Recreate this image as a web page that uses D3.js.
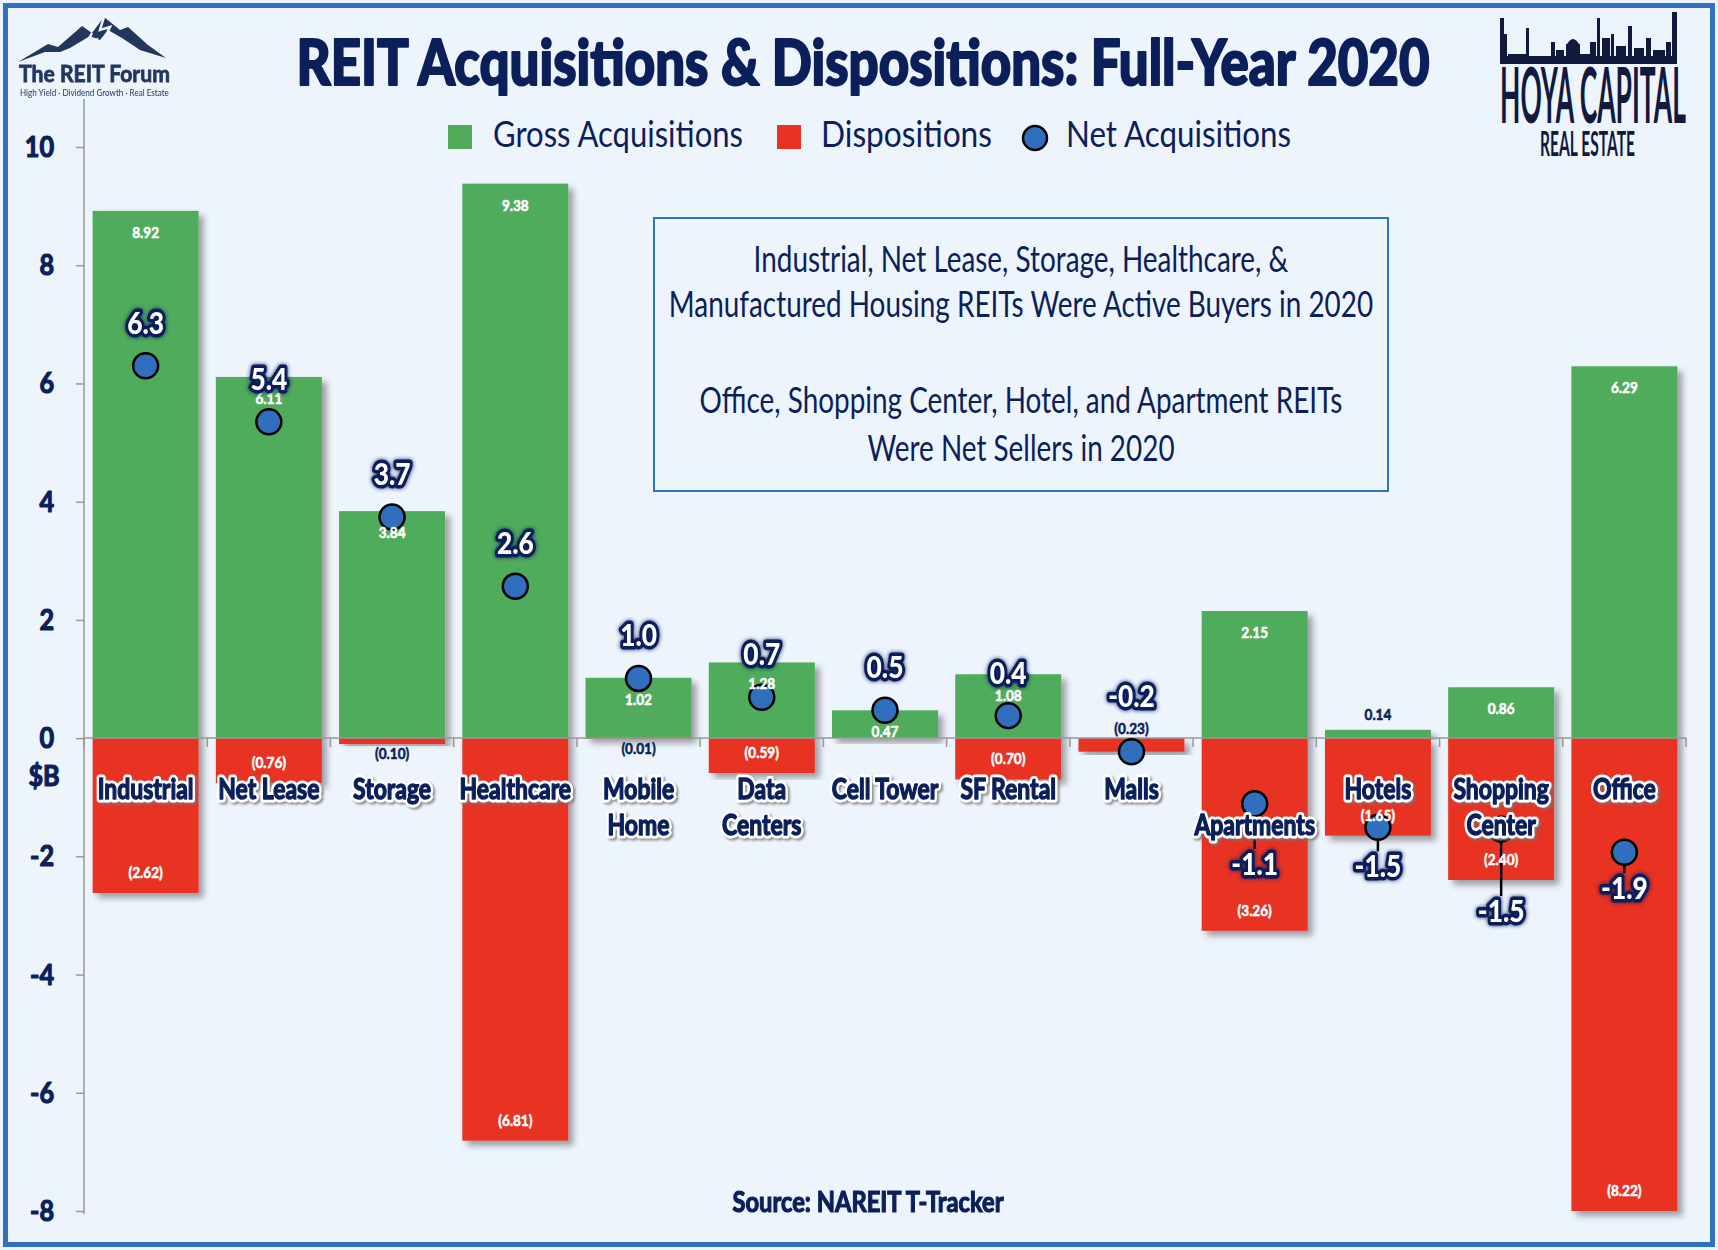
<!DOCTYPE html>
<html>
<head>
<meta charset="utf-8">
<script src="https://cdn.jsdelivr.net/npm/d3@7"></script>
<style>
  html, body { margin: 0; padding: 0; background: #eef4fc; }
  svg { display: block; }
</style>
</head>
<body>
<script>
// ---- data ($B) ----
var categories = ["Industrial", "Net Lease", "Storage", "Healthcare", "Mobile Home", "Data Centers",
                  "Cell Tower", "SF Rental", "Malls", "Apartments", "Hotels", "Shopping Center", "Office"];
var gross = [8.92, 6.11, 3.84, 9.38, 1.02, 1.28, 0.47, 1.08, 0, 2.15, 0.14, 0.86, 6.29];
var dispositions = [2.62, 0.76, 0.10, 6.81, 0.01, 0.59, 0, 0.70, 0.23, 3.26, 1.65, 2.40, 8.22];
var net = [6.30, 5.35, 3.74, 2.57, 1.01, 0.69, 0.47, 0.38, -0.23, -1.11, -1.51, -1.54, -1.93];
var netText = ["6.3", "5.4", "3.7", "2.6", "1.0", "0.7", "0.5", "0.4", "-0.2", "-1.1", "-1.5", "-1.5", "-1.9"];
var yTicks = [-8, -6, -4, -2, 0, 2, 4, 6, 8, 10];
var legendItems = ["Gross Acquisitions", "Dispositions", "Net Acquisitions"];
var noteLines = ["Industrial, Net Lease, Storage, Healthcare, &",
                 "Manufactured Housing REITs Were Active Buyers in 2020",
                 "Office, Shopping Center, Hotel, and Apartment REITs",
                 "Were Net Sellers in 2020"];

// layout: category label lines, and where the net label sits relative to its dot
var labelLines = [["Industrial"], ["Net Lease"], ["Storage"], ["Healthcare"], ["Mobile", "Home"],
                  ["Data", "Centers"], ["Cell Tower"], ["SF Rental"], ["Malls"], ["", "Apartments"],
                  ["Hotels"], ["Shopping", "Center"], ["Office"]];
var netLabelDy = [-32, -32, -32, -32, -32, -32, -32, -32, -45, 71, 50, 93, 47];

var width = 1718, height = 1250;
var navy = "#0b1f5b", green = "#50ac5b", red = "#e83323", dotBlue = "#2f6fbe";
var font = "Lato, 'Open Sans', sans-serif";

var svg = d3.select("body").append("svg").attr("width", width).attr("height", height);

var defs = svg.append("defs");
var f1 = defs.append("filter").attr("id", "barShadow").attr("x", "-10%").attr("y", "-10%").attr("width", "130%").attr("height", "130%");
f1.append("feDropShadow").attr("dx", 5).attr("dy", 5).attr("stdDeviation", 3)
  .attr("flood-color", "#000").attr("flood-opacity", 0.35);
var f2 = defs.append("filter").attr("id", "catShadow");
f2.append("feDropShadow").attr("dx", 2).attr("dy", 2).attr("stdDeviation", 1.2)
  .attr("flood-color", "#777").attr("flood-opacity", 0.8);
var f3 = defs.append("filter").attr("id", "netGlow").attr("x", "-30%").attr("y", "-30%").attr("width", "160%").attr("height", "160%");
f3.append("feDropShadow").attr("dx", 0).attr("dy", 0).attr("stdDeviation", 2)
  .attr("flood-color", navy).attr("flood-opacity", 0.9);

// background + frame
svg.append("rect").attr("width", width).attr("height", height).attr("fill", "#eef4fc");
svg.append("rect").attr("x", 5.5).attr("y", 5.5).attr("width", 1707).attr("height", 1239)
  .attr("fill", "none").attr("stroke", "#2f72c0").attr("stroke-width", 5);

// text helper; "heavy" thickens the glyphs with a stroke of the fill colour
function label(parent, x, y, s, o) {
  var fill = o.fill || navy;
  var t = parent.append("text")
    .attr("transform", "translate(" + x + "," + y + ") scale(" + (o.sx || 1) + ",1)")
    .attr("text-anchor", o.anchor || "middle")
    .style("font-family", font)
    .style("font-weight", o.weight || 700)
    .style("font-size", o.size + "px")
    .attr("fill", fill)
    .text(s);
  if (o.heavy) t.attr("stroke", fill).attr("stroke-width", o.heavy).attr("stroke-linejoin", "round");
  return t;
}

// squeeze a left-anchored text to a given width
function fitText(parent, x, y, s, w, size, weight, fill) {
  var t = parent.append("text").attr("text-anchor", "start")
    .style("font-family", font).style("font-weight", weight).style("font-size", size + "px")
    .attr("fill", fill).text(s);
  var len = t.node().getComputedTextLength();
  t.attr("transform", "translate(" + x + "," + y + ") scale(" + (w / len) + ",1)");
  return t;
}

// scales
var x = d3.scaleBand().domain(categories).range([84, 1686]).paddingInner(0.14).paddingOuter(0.07);
var y = d3.scaleLinear().domain([-8, 10]).range([1211, 147]).clamp(true);
var cx = function(i) { return x(categories[i]) + x.bandwidth() / 2; };

// title
svg.append("text").attr("x", 863).attr("y", 85).attr("text-anchor", "middle")
  .attr("textLength", 1133).attr("lengthAdjust", "spacingAndGlyphs")
  .style("font-family", font).style("font-weight", 900).style("font-size", "62px")
  .attr("fill", navy).attr("stroke", navy).attr("stroke-width", 2).attr("stroke-linejoin", "round")
  .text("REIT Acquisitions & Dispositions: Full-Year 2020");

// legend
var lg = svg.append("g");
lg.append("rect").attr("x", 448).attr("y", 125).attr("width", 24).attr("height", 24).attr("fill", green);
lg.append("rect").attr("x", 777).attr("y", 125).attr("width", 24).attr("height", 24).attr("fill", red);
lg.append("circle").attr("cx", 1035).attr("cy", 138).attr("r", 12).attr("fill", dotBlue)
  .attr("stroke", "#000").attr("stroke-width", 2.5);
var legendX = [493, 821, 1066], legendW = [250, 171, 225];
legendItems.forEach(function(d, i) {
  lg.append("text").attr("x", legendX[i]).attr("y", 147)
    .attr("textLength", legendW[i]).attr("lengthAdjust", "spacingAndGlyphs")
    .style("font-family", font).style("font-weight", 400).style("font-size", "37px")
    .attr("fill", navy).text(d);
});

// note box
svg.append("rect").attr("x", 654).attr("y", 218).attr("width", 734).attr("height", 273)
  .attr("fill", "none").attr("stroke", "#2f72c0").attr("stroke-width", 2);
var noteY = [272, 317, 413, 461];
noteLines.forEach(function(d, i) {
  label(svg, 1021, noteY[i], d, { size: 36, weight: 400, sx: 0.775 });
});

// y axis
var yAxis = d3.axisLeft(y).tickValues(yTicks).tickSize(8).tickFormat("");
var ya = svg.append("g").attr("transform", "translate(84,0)").call(yAxis);
ya.select(".domain").remove();
ya.selectAll(".tick line").attr("stroke", "#999").attr("stroke-width", 1.5);
svg.append("line").attr("x1", 84).attr("x2", 84).attr("y1", 99).attr("y2", y(-8) + 3)
  .attr("stroke", "#999").attr("stroke-width", 1.5);
yTicks.forEach(function(v) {
  label(svg, 54, y(v) + 10, String(v), { size: 28, anchor: "end", sx: 0.9, heavy: 1.2 });
});
label(svg, 44, 786, "$B", { size: 28, sx: 0.9, heavy: 1.2 });

// bars
var bars = svg.append("g");
bars.selectAll(".gross").data(gross).enter().append("rect")
  .attr("class", "gross")
  .attr("x", function(d, i) { return x(categories[i]); })
  .attr("width", x.bandwidth())
  .attr("y", function(d) { return y(d); })
  .attr("height", function(d) { return y(0) - y(d); })
  .attr("fill", green)
  .attr("filter", function(d) { return d > 0 ? "url(#barShadow)" : null; });
bars.selectAll(".disp").data(dispositions).enter().append("rect")
  .attr("class", "disp")
  .attr("x", function(d, i) { return x(categories[i]); })
  .attr("width", x.bandwidth())
  .attr("y", y(0))
  .attr("height", function(d) { return y(-d) - y(0); })
  .attr("fill", red)
  .attr("filter", function(d) { return d > 0 ? "url(#barShadow)" : null; });

// x axis line with ticks at band edges
var xa = svg.append("g");
xa.append("line").attr("x1", 84).attr("x2", 1686).attr("y1", y(0)).attr("y2", y(0))
  .attr("stroke", "#999").attr("stroke-width", 1.5);
xa.selectAll(".xt").data(categories.concat(["end"])).enter().append("line")
  .attr("x1", function(d, i) { return i < categories.length ? x(d) - x.step() * x.paddingInner() / 2 : 1686; })
  .attr("x2", function(d, i) { return i < categories.length ? x(d) - x.step() * x.paddingInner() / 2 : 1686; })
  .attr("y1", y(0)).attr("y2", y(0) + 9)
  .attr("stroke", "#999").attr("stroke-width", 1.5);

// net acquisitions: leader lines and dots (labels go on top later)
var ng = svg.append("g");
net.forEach(function(d, i) {
  if (netLabelDy[i] > 0) {
    ng.append("line").attr("x1", cx(i)).attr("x2", cx(i))
      .attr("y1", y(d)).attr("y2", y(d) + netLabelDy[i] - 26)
      .attr("stroke", "#000").attr("stroke-width", 2.5);
  }
});
ng.selectAll("circle").data(net).enter().append("circle")
  .attr("cx", function(d, i) { return cx(i); })
  .attr("cy", function(d) { return y(d); })
  .attr("r", 12.5)
  .attr("fill", dotBlue).attr("stroke", "#000").attr("stroke-width", 2.5);

// value labels
var vl = svg.append("g");
gross.forEach(function(d, i) {
  if (d <= 0) return;
  if (d < 0.3) label(vl, cx(i), y(d) - 10, d.toFixed(2), { size: 16, sx: 0.85, heavy: 0.6 });
  else label(vl, cx(i), y(d) + 27, d.toFixed(2), { size: 16, sx: 0.85, fill: "#fff", heavy: 0.6 });
});
dispositions.forEach(function(d, i) {
  if (d <= 0) return;
  var s = "(" + d.toFixed(2) + ")";
  if (gross[i] === 0) label(vl, cx(i), y(0) - 4, s, { size: 16, sx: 0.85, heavy: 0.6 });
  else if (d < 0.3) label(vl, cx(i), y(-d) + 15, s, { size: 16, sx: 0.85, heavy: 0.6 });
  else label(vl, cx(i), y(-d) - 15, s, { size: 16, sx: 0.85, fill: "#fff", heavy: 0.6 });
});

// category labels: white halo, then heavy navy glyphs
var cl = svg.append("g").attr("filter", "url(#catShadow)");
labelLines.forEach(function(lines, i) {
  lines.forEach(function(s, k) {
    if (!s) return;
    label(cl, cx(i), 799 + k * 36, s, { size: 28, sx: 0.82, fill: "#fff" })
      .attr("stroke", "#fff").attr("stroke-width", 7).attr("stroke-linejoin", "round");
  });
});
var cl2 = svg.append("g");
labelLines.forEach(function(lines, i) {
  lines.forEach(function(s, k) {
    if (!s) return;
    label(cl2, cx(i), 799 + k * 36, s, { size: 28, sx: 0.82, heavy: 1.4 });
  });
});

// net labels
var nl = svg.append("g").attr("filter", "url(#netGlow)");
net.forEach(function(d, i) {
  label(nl, cx(i), y(d) + netLabelDy[i], netText[i], { size: 31, weight: 900, sx: 0.85, fill: "#fff" })
    .attr("stroke", navy).attr("stroke-width", 7).attr("stroke-linejoin", "round")
    .style("paint-order", "stroke");
});

// source
svg.append("text").attr("x", 868).attr("y", 1212).attr("text-anchor", "middle")
  .attr("textLength", 271).attr("lengthAdjust", "spacingAndGlyphs")
  .style("font-family", font).style("font-weight", 700).style("font-size", "28px")
  .attr("fill", navy).attr("stroke", navy).attr("stroke-width", 1.2)
  .text("Source: NAREIT T-Tracker");

// ---- logos ----
var lf = svg.append("g");
lf.append("path")
  .attr("d", "M18,62 L48,44 L58,47 L82,26 L92,33 L104,17 L120,30 L128,27 L148,45 L166,58 L140,50 L122,38 L108,30 L100,40 L90,36 L70,48 L60,52 L45,52 Z")
  .attr("fill", "#22375e");
lf.append("path").attr("d", "M92,33 L86,44 L96,40 L90,52").attr("fill", "none").attr("stroke", "#eef4fc").attr("stroke-width", 2.5);
lf.append("path").attr("d", "M104,17 L100,30 L110,27 L104,40").attr("fill", "none").attr("stroke", "#eef4fc").attr("stroke-width", 2.5);
fitText(lf, 19, 82, "The REIT Forum", 151, 23, 700, "#22375e")
  .attr("stroke", "#22375e").attr("stroke-width", 0.8);
fitText(lf, 20, 96, "High Yield \u00b7 Dividend Growth \u00b7 Real Estate", 149, 9, 400, "#22375e");

var hc = svg.append("g").attr("fill", "#111a3d");
// skyline silhouette
var towers = [[1500, 4, 46], [1504, 3, 30], [1508, 18, 10], [1526, 3, 36], [1531, 20, 8], [1551, 4, 22],
              [1556, 8, 14], [1566, 14, 20], [1580, 10, 10], [1590, 6, 22], [1597, 3, 46], [1602, 8, 26],
              [1611, 3, 30], [1616, 10, 18], [1628, 4, 38], [1634, 10, 16], [1646, 5, 26], [1653, 12, 14],
              [1666, 5, 22], [1672, 5, 52]];
towers.forEach(function(t) {
  hc.append("rect").attr("x", t[0]).attr("y", 64 - t[2]).attr("width", t[1]).attr("height", t[2]);
});
hc.append("rect").attr("x", 1500).attr("y", 56).attr("width", 177).attr("height", 8);
hc.append("path").attr("d", "M1566,46 Q1573,32 1580,46 Z");
fitText(hc, 1500, 123, "HOYA CAPITAL", 186, 76, 700, "#111a3d");
fitText(hc, 1540, 156, "REAL ESTATE", 95, 34, 700, "#111a3d");
</script>
</body>
</html>
